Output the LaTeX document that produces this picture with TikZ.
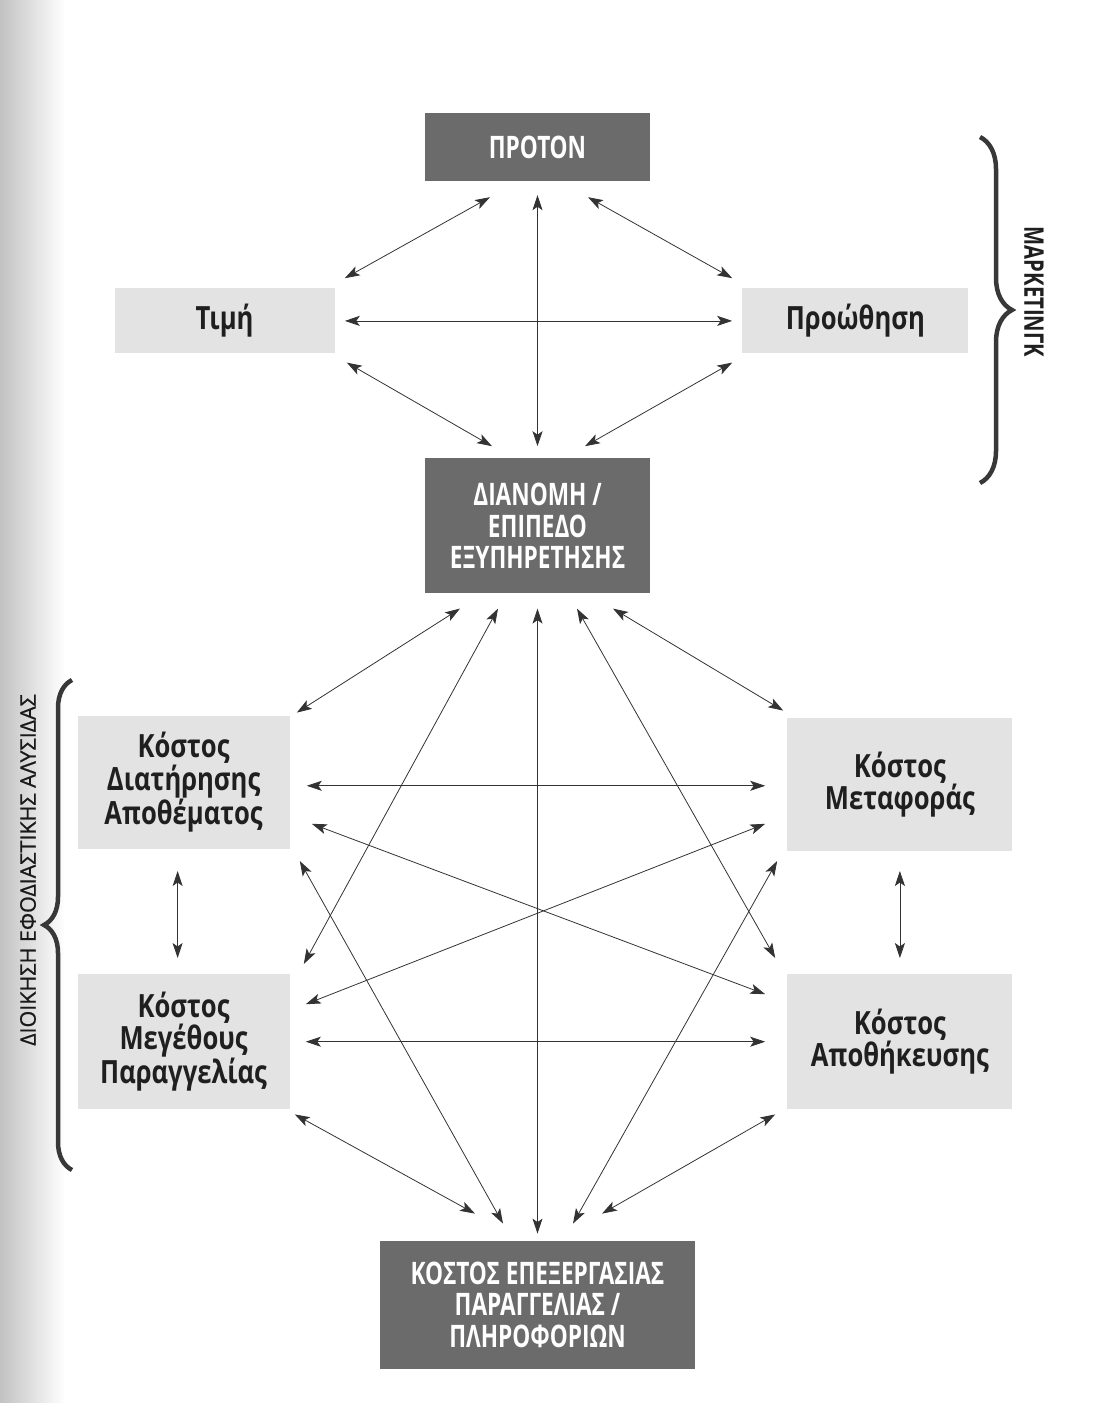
\documentclass[tikz,border=0pt]{standalone}
\usepackage{fontspec}
\setmainfont{Open Sans}
\newfontfamily\headfont[FakeStretch=0.73]{Open Sans}
\newfontfamily\costfont[FakeStretch=0.80]{Open Sans}
\newfontfamily\sidefont[FakeStretch=0.75]{Open Sans}
\newfontfamily\chainfont[FakeBold=0.8]{Open Sans}
\usetikzlibrary{arrows.meta, positioning, decorations.pathreplacing}

\definecolor{boxdark}{gray}{0.42}
\definecolor{boxlight}{gray}{0.89}
\definecolor{inkgray}{gray}{0.2}

\begin{document}
\begin{tikzpicture}[x=1pt, y=-1pt,
  mainbox/.style={fill=boxdark, text=white, minimum width=225pt, minimum height=68pt,
                  align=center, inner sep=0pt, font=\headfont\bfseries\fontsize{31}{31.5}\selectfont},
  costbox/.style={fill=boxlight, text=black!88, minimum width=212pt, minimum height=133pt,
                  align=center, inner sep=0pt, font=\costfont\bfseries\fontsize{32}{31}\selectfont},
  link/.style={draw=inkgray, line width=0.8pt,
               {Stealth[length=15pt,width=10pt,inset=3.5pt]}-{Stealth[length=15pt,width=10pt,inset=3.5pt]}},
  group/.style={decorate, decoration={brace, amplitude=32pt}, line width=4.5pt, draw=black!78}
]
  \useasboundingbox (0,0) rectangle (1107,1403);
  % scanned page edge
  \shade[left color=black!24, right color=white] (0,0) rectangle (65,1403);

  % Marketing mix
  \node[mainbox] (prod) at (537.5,147) {ΠΡΟΤΟΝ};
  \node[costbox, minimum width=220pt, minimum height=65pt, below left=107pt and 90pt of prod] (price) {Τιμή};
  \node[costbox, minimum width=226pt, minimum height=65pt, below right=107pt and 92pt of prod] (promo) {Προώθηση};
  \node[mainbox, minimum height=135pt, below=277pt of prod] (dist) {ΔΙΑΝΟΜΗ /\\ΕΠΙΠΕΔΟ\\ΕΞΥΠΗΡΕΤΗΣΗΣ};

  % Logistics costs
  \node[costbox, below left=122pt and 135pt of dist] (hold) {Κόστος\\Διατήρησης\\Αποθέματος};
  \node[costbox, minimum width=225pt, below right=124pt and 137pt of dist] (trans) {Κόστος\\Μεταφοράς};
  \node[costbox, minimum height=135pt, below=125pt of hold] (lot) {Κόστος\\Μεγέθους\\Παραγγελίας};
  \node[costbox, minimum width=225pt, minimum height=135pt, below=123pt of trans] (store) {Κόστος\\Αποθήκευσης};
  \node[mainbox, minimum width=315pt, minimum height=128pt, below=647pt of dist] (order) {ΚΟΣΤΟΣ ΕΠΕΞΕΡΓΑΣΙΑΣ\\ΠΑΡΑΓΓΕΛΙΑΣ /\\ΠΛΗΡΟΦΟΡΙΩΝ};

  % Edges, upper part
  \draw[link] ([xshift=-47.5pt,yshift=-16pt]prod.south) -- ([xshift=10pt,yshift=10pt]price.north east);
  \draw[link] ([xshift=50.5pt,yshift=-16pt]prod.south) -- ([xshift=-10pt,yshift=10pt]promo.north west);
  \draw[link] ([yshift=-14pt]prod.south) -- ([yshift=12pt]dist.north);
  \draw[link] ([xshift=10pt]price.east) -- ([xshift=-10pt]promo.west);
  \draw[link] ([xshift=12pt,yshift=-9pt]price.south east) -- ([xshift=-45.5pt,yshift=12pt]dist.north);
  \draw[link] ([xshift=-10pt,yshift=-9pt]promo.south west) -- ([xshift=47.5pt,yshift=12pt]dist.north);

  % Edges, lower part
  \draw[link] ([xshift=-77.5pt,yshift=-15pt]dist.south) -- ([xshift=7pt,yshift=3pt]hold.north east);
  \draw[link] ([xshift=-39.5pt,yshift=-15pt]dist.south) -- ([xshift=14pt,yshift=10pt]lot.north east);
  \draw[link] ([yshift=-15pt]dist.south) -- ([yshift=7pt]order.north);
  \draw[link] ([xshift=39.5pt,yshift=-15pt]dist.south) -- ([xshift=-12pt,yshift=16pt]store.north west);
  \draw[link] ([xshift=75.5pt,yshift=-15pt]dist.south) -- ([xshift=-4pt,yshift=7pt]trans.north west);

  \draw[link] ([xshift=17pt,yshift=-3.5pt]hold.east) -- ([xshift=-22pt,yshift=-1.5pt]trans.west);
  \draw[link] ([xshift=22pt,yshift=-41.5pt]hold.east) -- ([xshift=-22pt,yshift=47.5pt]store.west);
  \draw[link] ([xshift=16pt,yshift=37.5pt]lot.east) -- ([xshift=-22pt,yshift=-39.5pt]trans.west);
  \draw[link] ([xshift=16pt]lot.east) -- ([xshift=-22pt]store.west);
  \draw[link] ([xshift=-6pt,yshift=-22pt]hold.south) -- ([xshift=-6pt,yshift=16pt]lot.north);
  \draw[link] ([yshift=-20pt]trans.south) -- ([yshift=16pt]store.north);

  \draw[link] ([xshift=10pt,yshift=-12pt]hold.south east) -- ([xshift=-34.5pt,yshift=17pt]order.north);
  \draw[link] ([xshift=5pt,yshift=-5pt]lot.south east) -- ([xshift=-62.5pt,yshift=27pt]order.north);
  \draw[link] ([xshift=-10pt,yshift=-10pt]trans.south west) -- ([xshift=35.5pt,yshift=17pt]order.north);
  \draw[link] ([xshift=-12pt,yshift=-5pt]store.south west) -- ([xshift=64.5pt,yshift=27pt]order.north);

  % Group braces
  \coordinate (mtop) at (980,137);
  \coordinate (mbot) at (980,483);
  \draw[group] (mtop) -- (mbot);
  \node[rotate=-90, font=\sidefont\bfseries\fontsize{27}{28}\selectfont, text=black!88] (mlabel) at (1034,292) {ΜΑΡΚΕΤΙΝΓΚ};

  \coordinate (ltop) at (72,680);
  \coordinate (lbot) at (72,1170);
  \draw[group, decoration={brace, amplitude=28pt}] (lbot) -- (ltop);
  \node[rotate=90, font=\chainfont\fontsize{21.5}{24}\selectfont, text=black!90] (llabel) at (28,870) {ΔΙΟΙΚΗΣΗ ΕΦΟΔΙΑΣΤΙΚΗΣ ΑΛΥΣΙΔΑΣ};
\end{tikzpicture}
\end{document}
